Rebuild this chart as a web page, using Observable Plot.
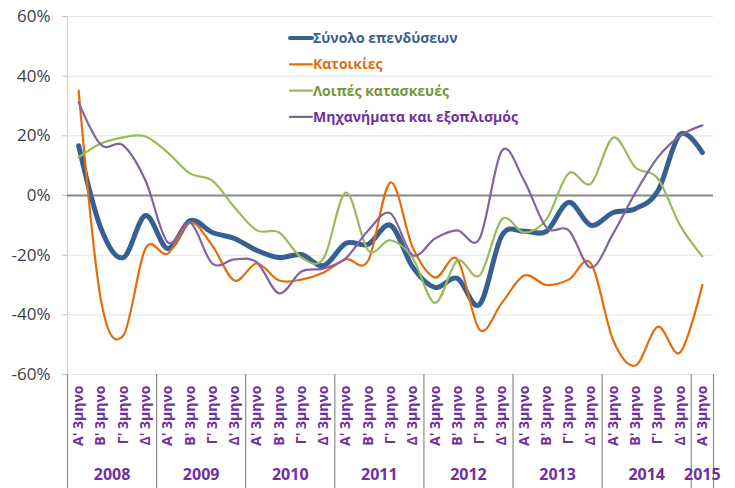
<!DOCTYPE html>
<html>
<head>
<meta charset="utf-8">
<script src="https://cdn.jsdelivr.net/npm/d3@7"></script>
<script src="https://cdn.jsdelivr.net/npm/@observablehq/plot@0.6"></script>
<style>
  html, body { margin: 0; padding: 0; background: #fff; }
  #chart { width: 735px; height: 488px; }
</style>
</head>
<body>
<div id="chart"></div>
<script>
// ---------- DATA ----------
const years = ["2008", "2009", "2010", "2011", "2012", "2013", "2014", "2015"];
const quarterLabels = ["Α' 3μηνο", "Β' 3μηνο", "Γ' 3μηνο", "Δ' 3μηνο"];
const seriesNames = ["Σύνολο επενδύσεων", "Κατοικίες", "Λοιπές κατασκευές", "Μηχανήματα και εξοπλισμός"];
// percent change, 2008 Q1 ... 2015 Q1
const total = [16.7, -11, -20.8, -6.7, -17.8, -8.4, -12.4, -14.4, -18.4, -20.8, -19.8, -23.5, -16, -16.4, -10, -24, -30.8, -27.8, -36.5, -13.4, -12, -12, -2.3, -10, -5.7, -4.4, 1.5, 20.5, 14.4];
const housing = [35.2, -35, -47, -17.8, -19.5, -9, -16.8, -28.5, -22.8, -28.5, -28.2, -25.8, -21.4, -21.8, 4.4, -17.4, -27.5, -21.4, -45, -36, -26.8, -30, -28.2, -22.8, -48.6, -57, -44, -52.6, -30];
const otherConstruction = [12.8, 17.4, 19.5, 19.8, 14.4, 7.4, 5, -4, -11.7, -12.4, -20.8, -21, 1, -18.4, -15, -21, -36, -21.8, -26.8, -8, -12.4, -8, 7.4, 4, 19.4, 9.4, 5.7, -10, -20.4];
const machinery = [31.2, 17, 16.8, 5, -15.7, -9, -22.8, -21.4, -22.4, -32.8, -25.5, -24.5, -21, -11.7, -6, -20, -14.4, -11.7, -14.4, 15, 5, -10.7, -11.7, -24.2, -12.7, 1, 12.8, 20, 23.5];
const yTicks = [-60, -40, -20, 0, 20, 40, 60];

// ---------- STYLE ----------
const lineColors = ["#376092", "#E46C0A", "#9BBB59", "#8064A2"];
const textColors = ["#376092", "#E46C0A", "#77933C", "#7030A0"];
const lineWidths = [5, 2.2, 2.2, 2.2];
const axisPurple = "#7030A0";
const FONT = "'Open Sans', 'Noto Sans', sans-serif";

// ---------- BUILD ----------
const seriesValues = [total, housing, otherConstruction, machinery];
const n = total.length;
const idx = d3.range(n);
const seriesRows = seriesValues.map((vals, k) => vals.map((v, i) => ({ i, v, s: seriesNames[k] })));
const quarterRows = idx.map(i => ({ i, label: quarterLabels[i % 4] }));
const yearRows = years.map((y, k) => {
  const count = Math.min(4, n - k * 4);
  return { year: y, x: k * 4 + (count - 1) / 2 };
});
const separators = years.map((y, k) => k * 4 - 0.5).concat([n - 0.5]);

function legendMark(index, scales, values, dims) {
  const g = d3.create("svg:g");
  const x0 = 290, x1 = 312, y0 = 38, gap = 26.3;
  seriesNames.forEach((name, k) => {
    const y = y0 + k * gap;
    g.append("line")
      .attr("x1", x0).attr("x2", x1).attr("y1", y).attr("y2", y)
      .attr("stroke", lineColors[k])
      .attr("stroke-width", k === 0 ? 4 : 2.2)
      .attr("stroke-linecap", "round");
    g.append("text")
      .attr("x", x1 + 1).attr("y", y).attr("dy", "0.35em")
      .attr("text-anchor", "start")
      .attr("fill", textColors[k])
      .attr("font-weight", "bold")
      .attr("font-size", 14)
      .attr("font-family", FONT)
      .text(name);
  });
  return g.node();
}

const plot = Plot.plot({
  width: 735,
  height: 488,
  marginLeft: 67,
  marginRight: 22,
  marginTop: 16,
  marginBottom: 114,
  style: { fontFamily: FONT, background: "#fff", overflow: "visible" },
  x: { type: "linear", domain: [-0.5, n - 0.5], axis: null },
  y: { domain: [-60, 60], axis: null },
  marks: [
    // gridlines
    Plot.ruleY(yTicks.filter(d => d !== 0), { stroke: "#e3e3e3", strokeWidth: 1 }),
    // y tick marks
    Plot.ruleY(yTicks, { x1: -0.5, x2: -0.5, insetLeft: -5, stroke: "#bfbfbf" }),
    // left axis line
    Plot.ruleX([-0.5], { stroke: "#cfcfcf", strokeWidth: 1 }),
    // y labels
    Plot.axisY(yTicks, { tickSize: 0, tickPadding: 17, fontSize: 17, color: "#404040", label: null, tickFormat: d => d + "%" }),
    // category separators below the plot
    Plot.ruleX(separators, { y1: -60, y2: -60, insetBottom: -114, stroke: "#8c8c8c", strokeWidth: 1.2 }),
    // zero line
    Plot.ruleY([0], { stroke: "#878787", strokeWidth: 2 }),
    // series
    ...seriesRows.map((rows, k) => Plot.line(rows, {
      x: "i", y: "v", curve: "cardinal",
      stroke: lineColors[k], strokeWidth: lineWidths[k],
      strokeLinejoin: "round", strokeLinecap: "round"
    })),
    // quarter labels
    Plot.text(quarterRows, {
      x: "i", text: "label", frameAnchor: "bottom", dy: 11,
      rotate: -90, textAnchor: "end", lineAnchor: "middle",
      fill: axisPurple, fontWeight: "bold", fontSize: 14
    }),
    // year labels
    Plot.text(yearRows, {
      x: "x", text: "year", frameAnchor: "bottom", dy: 105,
      fill: axisPurple, fontWeight: "bold", fontSize: 16
    }),
    legendMark
  ]
});

document.getElementById("chart").append(plot);
</script>
</body>
</html>
